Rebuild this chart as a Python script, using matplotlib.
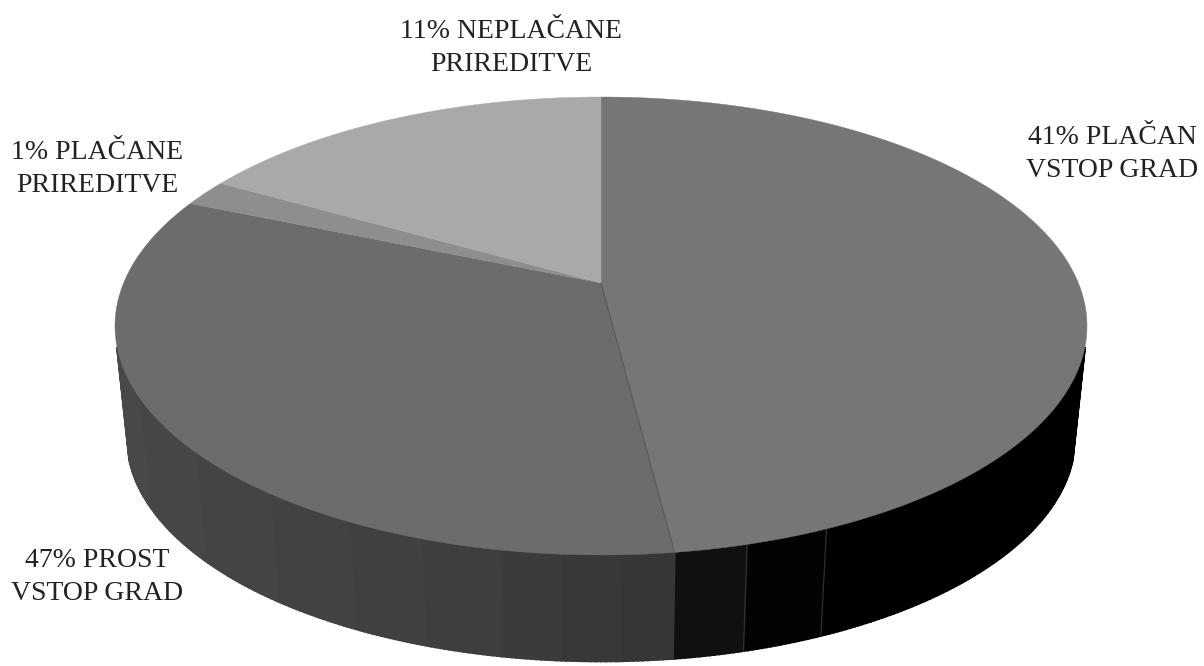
import numpy as np
import matplotlib
matplotlib.use("Agg")
import matplotlib.pyplot as plt

# shares as drawn on the pie, clockwise from the top (the printed labels differ)
slice_names = ["placan grad", "prost grad", "placane prir.", "neplacane prir."]
slice_shares = [48.0, 33.3, 1.9, 16.8]
slice_colors = ["#767676", "#6c6c6c", "#8e8e8e", "#a9a9a9"]

label_texts = [
    "41% PLAČAN\nVSTOP GRAD",
    "47% PROST\nVSTOP GRAD",
    "1% PLAČANE\nPRIREDITVE",
    "11% NEPLAČANE\nPRIREDITVE",
]
label_centers = [(1112, 154), (97, 577), (97, 169), (511, 48)]

# side wall shading, angle ranges in degrees from the top
wall_angles = [106, 157, 165.5, 172.8, 178, 184, 190, 198, 206, 216, 228, 242, 254]
wall_colors = ["#000000", "#030303", "#101010", "#363636", "#383838", "#3b3b3b",
               "#3e3e3e", "#404040", "#424242", "#444444", "#464646", "#484848"]
wall_seams = [157, 165.5]

# pie geometry in image pixels, perspective disc
CX, CY = 601, 283
FAR, NEAR = 186, 272
HALF_WIDTH = 486
DEPTH = 113
BASE_SCALE = 0.975


def rim(deg, drop=0.0, scale=1.0):
    """Точки края диска для углов deg (по часовой стрелке от верха)."""
    t = np.radians(deg)
    k = (NEAR - FAR) / (NEAR + FAR)
    b = FAR * (1 + k)
    a = HALF_WIDTH * np.sqrt(1 - k ** 2)
    w = 1 + k * np.cos(t)
    x = CX + scale * a * np.sin(t) / w
    y = CY - scale * b * np.cos(t) / w + drop
    return x, y


fig = plt.figure(figsize=(12.04, 6.66), dpi=100)
ax = fig.add_axes([0, 0, 1, 1])
ax.set_xlim(0, 1204)
ax.set_ylim(666, 0)
ax.axis("off")

# side wall, swept in small quads so the silhouette follows the tangents
for i, col in enumerate(wall_colors):
    t = np.arange(wall_angles[i], wall_angles[i + 1] + 0.5, 0.5)
    x0, y0 = rim(t)
    x1, y1 = rim(t, DEPTH, BASE_SCALE)
    for j in range(len(t) - 1):
        ax.fill([x0[j], x0[j + 1], x1[j + 1], x1[j]],
                [y0[j], y0[j + 1], y1[j + 1], y1[j]],
                color=col, lw=1.6, zorder=1 + i * 0.01)

for ang in wall_seams:
    x0, y0 = rim(ang)
    x1, y1 = rim(ang, DEPTH, BASE_SCALE)
    ax.plot([x0, x1], [y0, y1], color="#333333", lw=0.8, zorder=2)

# top of the pie
start = 0.0
for share, col in zip(slice_shares, slice_colors):
    end = start + share * 3.6
    t = np.linspace(start, end, 200)
    x, y = rim(t)
    ax.fill(np.r_[CX, x], np.r_[CY, y], color=col, lw=0.3, zorder=3)
    start = end

# thin dark line between the two big slices
x, y = rim(slice_shares[0] * 3.6)
ax.plot([CX, x], [CY, y], color="#585858", lw=0.8, zorder=4)

for text, (tx, ty) in zip(label_texts, label_centers):
    ax.text(tx, ty, text, ha="center", va="center", family="Liberation Serif",
            fontsize=20, color="#222222", linespacing=1.4, zorder=5)

fig.savefig("out.png", dpi=100, facecolor="white")
